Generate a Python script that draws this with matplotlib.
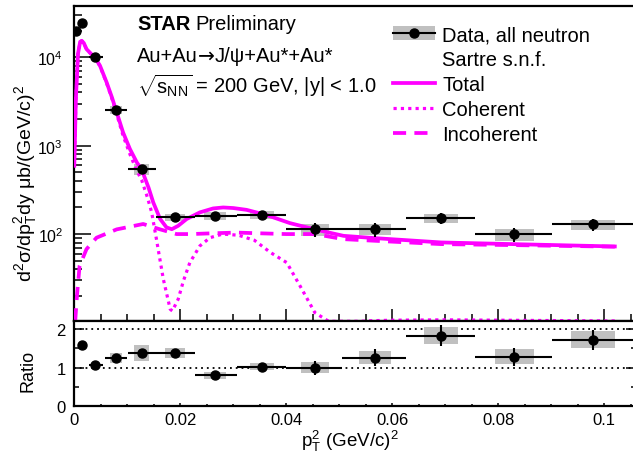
import numpy as np
import matplotlib
matplotlib.use("Agg")
import matplotlib.pyplot as plt
from matplotlib.patches import Rectangle, Patch
from matplotlib.lines import Line2D

plt.rcParams["font.family"] = ["Liberation Sans", "DejaVu Sans"]
plt.rcParams["mathtext.fontset"] = "custom"
plt.rcParams["mathtext.rm"] = "Liberation Sans"
plt.rcParams["mathtext.it"] = "Liberation Sans"
plt.rcParams["mathtext.bf"] = "Liberation Sans:bold"

# --- data points (STAR preliminary, all neutron class) ---
pt2 = [0.0003, 0.0015, 0.0040, 0.0079, 0.0127, 0.0190, 0.0265, 0.0354,
       0.0454, 0.0567, 0.0692, 0.0830, 0.0979]
xsec = [2.0e4, 2.43e4, 1.0e4, 2530, 543, 154, 161, 164, 113, 113, 151, 99, 128.5]
bin_lo = [0.0002, 0.0012, 0.0027, 0.0057, 0.0101, 0.0155, 0.0228, 0.0307,
          0.0400, 0.0506, 0.0626, 0.0757, 0.0901]
bin_hi = [0.0004, 0.0018, 0.0055, 0.0099, 0.0154, 0.0228, 0.0307, 0.0400,
          0.0506, 0.0626, 0.0757, 0.0901, 0.1060]
rel_stat = [0.02, 0.02, 0.03, 0.03, 0.035, 0.03, 0.05, 0.09, 0.18, 0.17, 0.15, 0.18, 0.15]
rel_sys = [0.0, 0.0, 0.02, 0.10, 0.15, 0.094, 0.11, 0.10, 0.15, 0.14, 0.115, 0.15, 0.13]
box_hw = [0.0, 0.0, 0.0006, 0.0011, 0.00136, 0.0018, 0.0021, 0.00225,
          0.0027, 0.0030, 0.0033, 0.0037, 0.0042]
ratio = [5.9, 1.58, 1.06, 1.25, 1.39, 1.39, 0.80, 1.03, 1.00, 1.26, 1.83, 1.28, 1.72]

# --- Sartre s.n.f. curves ---
tot_x = [0.0, 0.0003, 0.0007, 0.0011, 0.0014, 0.0018, 0.0023, 0.0040, 0.00485,
         0.0061, 0.0071, 0.0079, 0.0092, 0.0105, 0.0118, 0.0127, 0.0140, 0.0149,
         0.0162, 0.0174, 0.0184, 0.0196, 0.0212, 0.0237, 0.0262, 0.0281, 0.0300,
         0.0325, 0.0363, 0.0407, 0.0454, 0.0508, 0.0567, 0.0692, 0.0830, 0.1020]
tot_y = [593, 3400, 1.10e4, 1.50e4, 1.54e4, 1.45e4, 1.24e4, 9740, 8040,
         5210, 3525, 2490, 1415, 916, 647, 540, 337, 228,
         148, 119, 113.5, 124, 148, 176, 195, 200, 197,
         188, 164, 133, 113, 95.5, 90, 80.4, 76.9, 72.4]

coh_x = [0.0, 0.0003, 0.0007, 0.0011, 0.0014, 0.0018, 0.0023, 0.0040, 0.00485,
         0.0061, 0.0071, 0.0079, 0.0092, 0.0105, 0.0118, 0.0127, 0.0138, 0.0146,
         0.0155, 0.0168, 0.0181, 0.0185, 0.0196, 0.0206, 0.0218, 0.0237, 0.0256,
         0.0280, 0.0310, 0.0340, 0.0370, 0.0401, 0.0426, 0.0454, 0.0480, 0.0500,
         0.0520, 0.0540, 0.0560, 0.0600, 0.0700, 0.0800, 0.0900, 0.1000, 0.1020]
coh_y = [585, 3390, 1.097e4, 1.496e4, 1.535e4, 1.445e4, 1.233e4, 9650, 7940,
         5100, 3410, 2380, 1300, 800, 520, 410, 260, 176,
         87.5, 30.9, 14.1, 13.5, 18.3, 29.6, 47.5, 73.5, 91,
         100, 97, 85, 62, 47.5, 25.9, 12.9, 9.5, 5,
         4, 7, 10.45, 10.6, 10.7, 10.6, 10.5, 10.4, 10.4]

inc_x = [0.0001, 0.0002, 0.0005, 0.0010, 0.0023, 0.0042, 0.0080, 0.0130,
         0.0162, 0.0193, 0.0220, 0.0260, 0.0306, 0.0350, 0.0400, 0.0454,
         0.0508, 0.0567, 0.0692, 0.0830, 0.1020]
inc_y = [8, 10.9, 20, 43.7, 67.5, 91, 113, 130,
         113, 100, 100, 102, 104, 102, 100, 100,
         87.6, 84, 77, 75, 72]

W, H = 633, 456
fig = plt.figure(figsize=(W / 100, H / 100), dpi=100)
x0, x1 = 74.3 / W, 636 / W
ax = fig.add_axes([x0, 1 - 322.3 / H, x1 - x0, (322.3 - 6.7) / H])
axr = fig.add_axes([x0, 1 - 407.3 / H, x1 - x0, (407.3 - 322.3) / H])

magenta = "#ff00ff"
gray = "#c0c0c0"
ylo = 10.3
dotted = (0, (1, 1.3))
dashed = (0, (3.5, 2.2))

pt2 = np.array(pt2)
xsec = np.array(xsec)
ratio = np.array(ratio)
xerr = [pt2 - np.array(bin_lo), np.array(bin_hi) - pt2]

# upper panel
ax.plot(tot_x, tot_y, color=magenta, lw=2.7, zorder=3)
ax.plot(coh_x, np.clip(coh_y, ylo, None), color=magenta, lw=2.3, ls=dotted, zorder=3)
ax.plot(inc_x, np.clip(inc_y, ylo, None), color=magenta, lw=2.7, ls=dashed, zorder=3)

for x, y, s, hw in zip(pt2, xsec, rel_sys, box_hw):
    if s > 0:
        ax.add_patch(Rectangle((x - hw, y * (1 - s)), 2 * hw, 2 * s * y,
                               facecolor=gray, edgecolor="none", zorder=2))
ax.errorbar(pt2, xsec, xerr=xerr, yerr=xsec * np.array(rel_stat), fmt="o",
            color="black", ms=6.5, elinewidth=1.5, capsize=0, zorder=5)

ax.set_yscale("log")
ax.set_xlim(0, 0.106)
ax.set_ylim(ylo, 3.84e4)

# ratio panel
for x, r, s, hw in zip(pt2, ratio, rel_sys, box_hw):
    if s > 0:
        axr.add_patch(Rectangle((x - hw, r * (1 - s)), 2 * hw, 2 * s * r,
                                facecolor=gray, edgecolor="none", zorder=2))
axr.errorbar(pt2, ratio, xerr=xerr, yerr=ratio * np.array(rel_stat), fmt="o",
             color="black", ms=6.5, elinewidth=1.5, capsize=0, zorder=5)
axr.axhline(1, color="black", lw=1.3, ls=(0, (1, 2.2)), zorder=1)
axr.axhline(2, color="black", lw=1.3, ls=(0, (1, 2.2)), zorder=1)
axr.set_xlim(0, 0.106)
axr.set_ylim(0, 2.2)
axr.set_yticks([0, 1, 2])
axr.set_yticks([0.5, 1.5], minor=True)
axr.set_xticks([0, 0.02, 0.04, 0.06, 0.08, 0.1])
axr.set_xticklabels(["0", "0.02", "0.04", "0.06", "0.08", "0.1"])
axr.set_xticks(np.arange(0, 0.106, 0.005), minor=True)
ax.set_xticks([0, 0.02, 0.04, 0.06, 0.08, 0.1])
ax.set_xticks(np.arange(0, 0.106, 0.005), minor=True)

for a in (ax, axr):
    for sp in a.spines.values():
        sp.set_linewidth(1.6)

ax.tick_params(axis="both", which="both", direction="in", top=False, right=False,
               labelbottom=False, width=1.1)
ax.tick_params(axis="y", which="major", length=12.5, labelsize=11.5, pad=8)
ax.tick_params(axis="y", which="minor", length=6)
ax.tick_params(axis="x", which="major", length=8.4)
ax.tick_params(axis="x", which="minor", length=4.8)

axr.tick_params(axis="both", which="both", direction="in", top=False, right=True, width=1.1)
axr.tick_params(axis="y", which="major", length=7, labelsize=12, pad=6)
axr.tick_params(axis="y", which="minor", length=3.6)
axr.tick_params(axis="x", which="major", length=2.5, labelsize=12, pad=4)
axr.tick_params(axis="x", which="minor", length=1.5)

# axis titles
fig.text(26 / W, 1 - 183 / H, "d$^{2}$σ/dp$_{\\rm T}^{2}$dy μb/(GeV/c)$^{2}$",
         rotation=90, ha="center", va="center", fontsize=14)
fig.text(28 / W, 1 - 371 / H, "Ratio", rotation=90, ha="center", va="center", fontsize=13)
fig.text(350 / W, 1 - 447 / H, "p$_{\\rm T}^{2}$ (GeV/c)$^{2}$",
         ha="center", va="baseline", fontsize=13.5)

# labels, pieces placed one after the other
renderer = fig.canvas.get_renderer()


def put_row(x_px, base_px, pieces, size=14.5):
    for txt, kw, gap in pieces:
        t = fig.text(x_px / W, 1 - base_px / H, txt, fontsize=size, va="baseline", **kw)
        x_px += t.get_window_extent(renderer).width + gap


put_row(137, 30, [("STAR", {"fontweight": "bold"}, 5), ("Preliminary", {}, 0)])
put_row(137, 62, [("Au+Au", {}, 0), ("→", {"family": ["DejaVu Sans"]}, 0),
                  ("J/ψ+Au*+Au*", {}, 0)])
fig.text(137 / W, 1 - 92.7 / H, "$\\sqrt{s_{\\rm NN}}$ = 200 GeV, |y| < 1.0",
         fontsize=14.5, va="baseline")

# legend
h_data = (Patch(facecolor=gray, edgecolor="none"),
          Line2D([], [], color="black", marker="o", ms=6.5, lw=1.5))
h_blank = Line2D([], [], color="none")
h_tot = Line2D([], [], color=magenta, lw=2.7)
h_coh = Line2D([], [], color=magenta, lw=2.3, ls=dotted)
h_inc = Line2D([], [], color=magenta, lw=2.7, ls=dashed)
ax.legend([h_data, h_blank, h_tot, h_coh, h_inc],
          ["Data, all neutron", "Sartre s.n.f.", "Total", "Coherent", "Incoherent"],
          loc="upper left", bbox_to_anchor=(393 / W, 1 - 26 / H),
          bbox_transform=fig.transFigure, frameon=False, fontsize=14.5,
          handlelength=2.1, handletextpad=0.35, labelspacing=0.3,
          borderpad=0, borderaxespad=0)

fig.savefig("out.png", dpi=100)
